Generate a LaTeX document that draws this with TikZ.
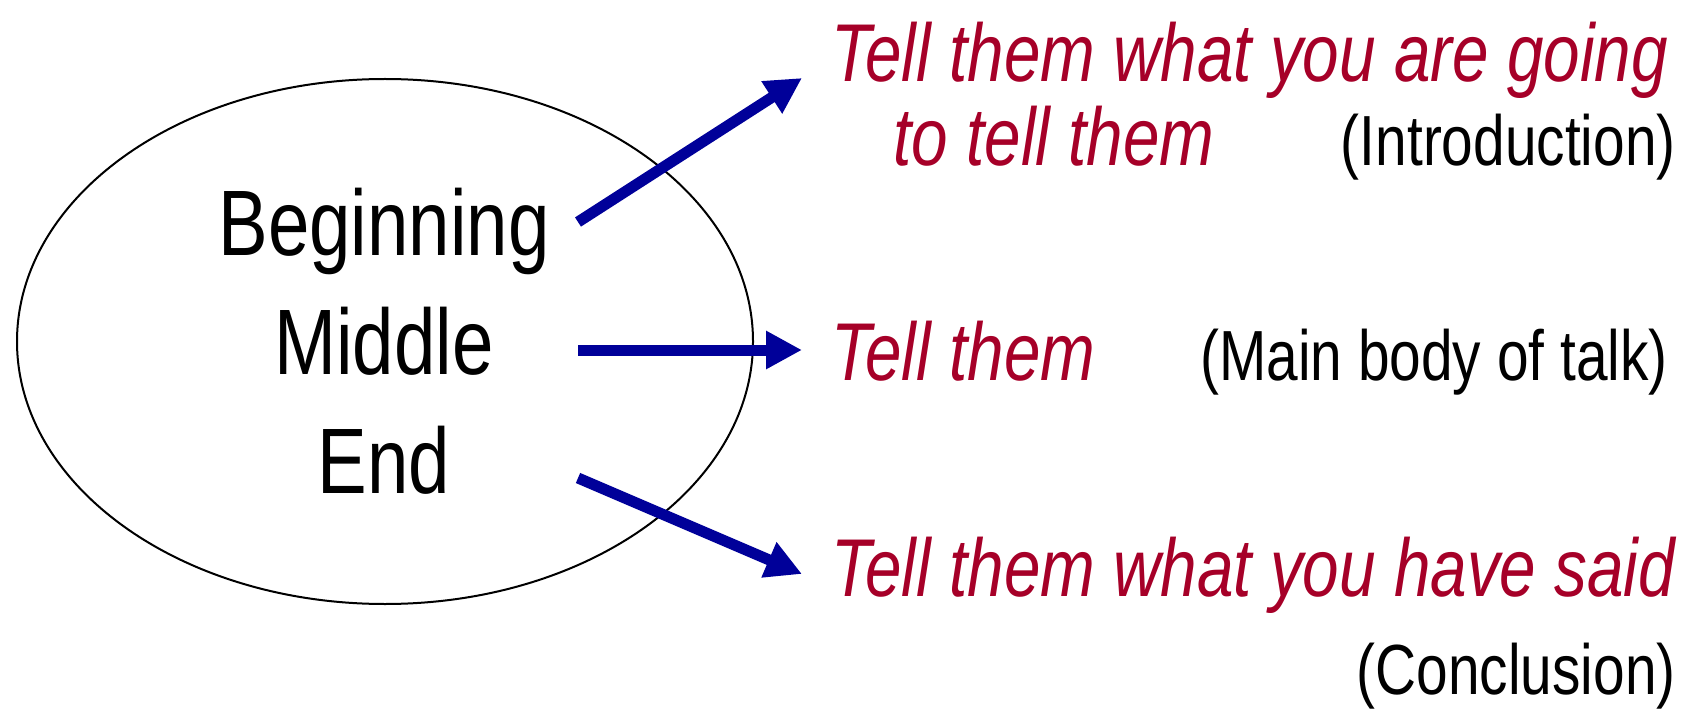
\documentclass[tikz,border=0pt]{standalone}
\usepackage{fontspec}
\usetikzlibrary{arrows.meta,shapes.geometric}
\newfontfamily\narrowfont[FakeStretch=0.80]{Liberation Sans}
\definecolor{talkred}{RGB}{166,0,40}
\definecolor{arrowblue}{RGB}{0,0,153}
\tikzset{
  part/.style={font=\narrowfont\fontsize{46.5}{54}\selectfont, text=black, inner sep=0pt, anchor=base},
  redtxt/.style={font=\narrowfont\itshape\fontsize{41}{48}\selectfont, text=talkred, inner sep=0pt, anchor=base west},
  blacktxt/.style={font=\narrowfont\fontsize{35.5}{42}\selectfont, text=black, inner sep=0pt, anchor=base east},
  bigarrow/.style={draw=arrowblue, line width=5.5pt, -{Triangle[length=18pt,width=18pt]}},
}
\begin{document}
\begin{tikzpicture}[x=0.5pt,y=-0.5pt]
\useasboundingbox (0,0) rectangle (1691,711);
\node[draw=black, line width=1pt, ellipse, minimum width=368pt, minimum height=262.5pt, inner sep=0pt] (oval) at (385,341.5) {};
\node[part] (beg) at (384,256) {Beginning};
\node[part] (mid) at (384,374) {Middle};
\node[part] (endn) at (384,493) {End};
\coordinate (t1) at (578,222);
\coordinate (h1) at (802,78);
\coordinate (t2) at (578,350);
\coordinate (h2) at (802,350);
\coordinate (t3) at (578,478);
\coordinate (h3) at (802,574);
\draw[bigarrow] (t1) -- (h1);
\draw[bigarrow] (t2) -- (h2);
\draw[bigarrow] (t3) -- (h3);
\node[redtxt] (r1) at (831,82) {Tell them what you are going};
\node[redtxt] (r1b) at (893,166) {to tell them};
\node[blacktxt] (intro) at (1676,166) {(Introduction)};
\node[redtxt] (r2) at (831,380) {Tell them};
\node[blacktxt] (mainb) at (1668,380) {(Main body of talk)};
\node[redtxt] (r3) at (831,596) {Tell them what you have said};
\node[blacktxt] (concl) at (1676,694) {(Conclusion)};
\end{tikzpicture}
\end{document}
